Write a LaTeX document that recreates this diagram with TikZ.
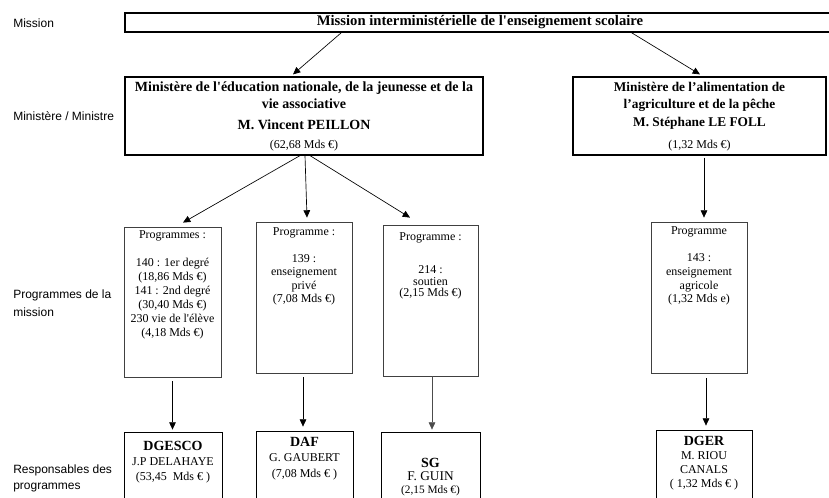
\documentclass[tikz,border=0pt]{standalone}
\usepackage{fontspec}
\newfontfamily\docfont{Liberation Serif}
\newfontfamily\labelfont{Liberation Sans}
\usetikzlibrary{arrows.meta,calc}
\tikzset{
  boxsize/.style 2 args={minimum width=#1*0.75pt, minimum height=#2*0.75pt},
  heavybox/.style={draw=black, line width=0.9pt, inner sep=0pt},
  progbox/.style={draw=black!75, line width=0.6pt, inner sep=0pt},
  chiefbox/.style={draw=black, line width=0.6pt, inner sep=0pt},
  rowlabel/.style={anchor=west, align=left, inner sep=0pt, font=\labelfont\fontsize{9}{13.5}\selectfont},
  boxtext/.style={align=center, inner sep=0pt},
  arr/.style={draw=black, line width=0.5pt, -{Triangle[width=5pt,length=5.5pt]}},
}
\begin{document}
\docfont
\begin{tikzpicture}[x=0.75pt,y=0.75pt]
\useasboundingbox (0,0) rectangle (829,-497);
\clip (0,0) rectangle (829,-497);

% row labels on the left
\node[rowlabel] (lmission) at (13,-23) {Mission};
\node[rowlabel] (lminist) at (13,-116) {Ministère / Ministre};
\node[rowlabel] (lprog) at (13,-303) {Programmes de la\\mission};
\node[rowlabel, font=\labelfont\fontsize{9}{12}\selectfont] (lresp) at (13,-478) {Responsables des\\programmes};

% mission
\node[heavybox, boxsize={710}{19}, font=\bfseries\fontsize{11}{13}\selectfont] (mission) at (480,-22.5) {Mission interministérielle de l'enseignement scolaire};

% ministries
\node[heavybox, boxsize={358}{78}] (edu) at (304,-116) {};
\node[heavybox, boxsize={253}{78}] (agri) at (699.5,-116) {};
\node[boxtext, font=\bfseries\fontsize{10.5}{12.75}\selectfont] (eduname) at (304,-106) {Ministère de l'éducation nationale, de la jeunesse et de la\\vie associative\\[3pt]M. Vincent PEILLON};
\node[boxtext, font=\fontsize{9}{11}\selectfont] (educost) at (304,-146) {(62,68 Mds €)};
\node[boxtext, font=\bfseries\fontsize{10}{13.2}\selectfont] (agriname) at (699.5,-105.5) {Ministère de l’alimentation de\\l’agriculture et de la pêche\\M. Stéphane LE FOLL};
\node[boxtext, font=\fontsize{9}{11}\selectfont] (agricost) at (699.5,-146) {(1,32 Mds €)};

% programmes
\node[progbox, boxsize={97}{150}] (p140) at (172.5,-302) {};
\node[progbox, boxsize={96}{151}] (p139) at (304,-297.5) {};
\node[progbox, boxsize={95}{151}] (p214) at (430.5,-300.5) {};
\node[progbox, boxsize={96}{151}] (p143) at (699,-297.5) {};
\node[boxtext, font=\fontsize{9}{10.5}\selectfont] (p140txt) at (172.5,-285) {Programmes :\\[10.5pt]140 : 1er degré\\(18,86 Mds €)\\141 : 2nd degré\\(30,40 Mds €)\\230 vie de l'élève\\(4,18 Mds €)};
\node[boxtext, font=\fontsize{9}{10}\selectfont] (p139txt) at (304,-266.5) {Programme :\\[10pt]139 :\\enseignement\\privé\\(7,08 Mds €)};
\node[boxtext, font=\fontsize{9}{8.4}\selectfont] (p214txt) at (430.5,-265.5) {Programme :\\[17pt]214 :\\soutien\\(2,15 Mds €)};
\node[boxtext, font=\fontsize{9}{10.2}\selectfont] (p143txt) at (699,-266) {Programme\\[10.2pt]143 :\\enseignement\\agricole\\(1,32 Mds e)};

% programme heads
\node[chiefbox, boxsize={98}{80}] (dgesco) at (173,-472) {};
\node[chiefbox, boxsize={97}{80}] (daf) at (304.5,-471) {};
\node[chiefbox, boxsize={99}{80}] (sg) at (430.5,-472) {};
\node[chiefbox, boxsize={96}{80}] (dger) at (704,-470) {};
\node[boxtext, font=\fontsize{9}{11.25}\selectfont] (dgescotxt) at (173,-462) {{\bfseries\fontsize{10.5}{11.25}\selectfont DGESCO}\\J.P DELAHAYE\\(53,45~ Mds € )};
\node[boxtext, font=\fontsize{9}{11.6}\selectfont] (daftxt) at (304.5,-458.5) {{\bfseries\fontsize{10.5}{11.6}\selectfont DAF}\\G. GAUBERT\\(7,08 Mds € )};
\node[boxtext, font=\fontsize{10}{9.5}\selectfont] (sgtxt) at (430.5,-477) {{\bfseries\fontsize{10.5}{11}\selectfont SG}\\F. GUIN\\{\fontsize{8.5}{9.5}\selectfont (2,15 Mds €)}};
\node[boxtext, font=\fontsize{9}{10.5}\selectfont] (dgertxt) at (704,-463) {{\bfseries\fontsize{10.5}{10.5}\selectfont DGER}\\M. RIOU\\CANALS\\( 1,32 Mds € )};

% connectors
\draw[arr] ($(mission.south west)+(217,0)$) -- ($(edu.north)+(-11,2)$);
\draw[arr] ($(mission.south west)+(507,0)$) -- ($(agri.north)+(0.5,2)$);
\draw[arr] ($(edu.south)+(-4,0)$) -- ($(p140.north)+(10.5,4)$);
\draw[arr] ($(edu.south)+(1,0)$) -- ($(p139.north)+(3,4)$);
\draw[arr] ($(edu.south)+(6,0)$) -- ($(p214.north)+(-20.5,7)$);
\draw[arr] ($(agri.south)+(4.5,-2)$) -- ($(p143.north)+(5,4)$);
\draw[arr] ($(p140.south)+(0,-4)$) -- ($(dgesco.north)+(-0.5,2)$);
\draw[arr] ($(p139.south)+(-1,-4)$) -- ($(daf.north)+(-1.5,4)$);
\draw[arr, draw=black!70] ($(p214.south)+(1.5,0)$) -- ($(sg.north)+(1.5,2)$);
\draw[arr] ($(p143.south)+(7,-5)$) -- ($(dger.north)+(2,4)$);
\end{tikzpicture}
\end{document}
